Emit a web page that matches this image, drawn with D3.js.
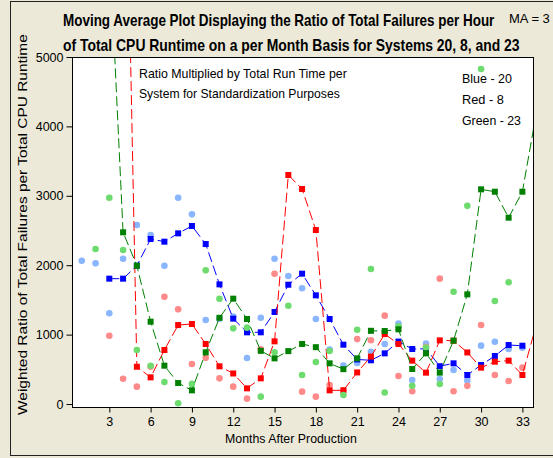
<!DOCTYPE html>
<html>
<head>
<meta charset="utf-8">
<script src="https://cdn.jsdelivr.net/npm/d3@7"></script>
<style>
  html, body { margin: 0; padding: 0; background: #ECE9D8; }
  svg { display: block; }
  text { font-family: "Liberation Sans", Arial, sans-serif; fill: #000; }
</style>
</head>
<body>
<svg id="chart" width="553" height="458"></svg>
<script>
// Months after production (1..34); month 34 only feeds the last MA segment
const months = [1,2,3,4,5,6,7,8,9,10,11,12,13,14,15,16,17,18,19,20,21,22,23,24,25,26,27,28,29,30,31,32,33,34];
const xTickValues = [3,6,9,12,15,18,21,24,27,30,33];
const yTickValues = [0,1000,2000,3000,4000,5000];

// System 20 (blue)
const blueRaw = [2065,2027,1307,2094,2579,2435,1993,2973,2733,1210,1230,1260,663,1244,2094,1844,1667,1225,785,553,590,754,865,1160,346,870,360,490,340,841,898,793,812,null];
const blueMA  = [null,null,1806,1806,1993,2378,2339,2459,2565,2305,1724,1230,1033,1033,1326,1719,1878,1566,1225,855,642,630,730,900,793,795,545,586,418,562,692,850,840,null];

// System 8 (red)
const redRaw = [null,null,984,365,250,537,1546,1364,576,665,370,250,77,788,1878,7230,178,106,274,196,935,918,1273,403,183,826,1806,183,262,1138,418,331,524,null];
const redMA  = [null,null,null,10300,537,384,778,1138,1153,865,543,440,226,370,903,3300,3098,2507,197,197,455,683,1008,865,625,452,917,912,743,524,610,625,418,1135];

// System 23 (green)
const greenRaw = [null,2233,2973,2219,778,552,317,10,290,1926,1517,1090,1100,106,745,1415,418,605,764,130,1070,1945,166,1119,264,815,288,1618,2855,4827,1484,1754,5940,null];
const greenMA  = [null,null,6650,2474,1993,1186,552,302,197,745,1242,1518,1225,766,658,762,865,819,586,502,658,1055,1052,1076,504,730,452,913,1580,3093,3059,2685,3059,4180];

const series = [
  { raw: blueRaw,  ma: blueMA,  dot: "#8AB6FF", mark: "#0000FF", line: "#0000FF" },
  { raw: redRaw,   ma: redMA,   dot: "#FF8A8A", mark: "#FF0000", line: "#FF0000" },
  { raw: greenRaw, ma: greenMA, dot: "#6EDB6E", mark: "#008000", line: "#008000" }
];

const svg = d3.select("#chart");
const plot = { left: 72, right: 533, top: 57, bottom: 407 };

const x = d3.scaleLinear().domain([0.29, 33.77]).range([plot.left, plot.right]);
const y = d3.scaleLinear().domain([-43, 5000]).range([plot.bottom, plot.top]);

// Place a text at (px, py) and squeeze it horizontally to the given width
function fitText(str, px, py, width, opts = {}) {
  const t = svg.append("text")
    .attr("font-size", opts.size || 13)
    .attr("font-weight", opts.weight || "normal")
    .attr("fill", opts.fill || "#222")
    .text(str);
  const natural = t.node().getComputedTextLength();
  const k = width / natural;
  const rot = opts.rotate ? ` rotate(${opts.rotate})` : "";
  const ax = opts.anchor === "middle" ? -width / 2 : 0;
  t.attr("transform", `translate(${px},${py})${rot} translate(${ax},0) scale(${k},1)`);
  return t;
}

// outer border of the graph window
svg.append("rect")
  .attr("x", 10.5).attr("y", 1.5)
  .attr("width", 600).attr("height", 454)
  .attr("fill", "#ECE9D8").attr("stroke", "#222").attr("stroke-width", 1);

// data region
svg.append("rect")
  .attr("x", plot.left).attr("y", plot.top)
  .attr("width", plot.right - plot.left).attr("height", plot.bottom - plot.top)
  .attr("fill", "#fff");

svg.append("clipPath").attr("id", "clip")
  .append("rect")
  .attr("x", plot.left).attr("y", plot.top)
  .attr("width", plot.right - plot.left).attr("height", plot.bottom - plot.top);

const g = svg.append("g").attr("clip-path", "url(#clip)");

const lineGen = d3.line()
  .defined(d => d.v != null)
  .x(d => x(d.m))
  .y(d => y(d.v));

series.forEach(s => {
  const rawPts = months.map((m, i) => ({ m, v: s.raw[i] })).filter(d => d.v != null);
  const maPts  = months.map((m, i) => ({ m, v: s.ma[i] }));

  g.append("g").selectAll("circle")
    .data(rawPts).join("circle")
    .attr("cx", d => x(d.m)).attr("cy", d => y(d.v))
    .attr("r", 3.3).attr("fill", s.dot);

  g.append("path")
    .datum(maPts)
    .attr("d", lineGen)
    .attr("fill", "none")
    .attr("stroke", s.line)
    .attr("stroke-width", 1)
    .attr("stroke-dasharray", "10,4");

  g.append("g").selectAll("rect")
    .data(maPts.filter(d => d.v != null)).join("rect")
    .attr("x", d => x(d.m) - 3).attr("y", d => y(d.v) - 3)
    .attr("width", 6).attr("height", 6)
    .attr("fill", s.mark);
});

// frame
svg.append("rect")
  .attr("x", plot.left + 0.5).attr("y", plot.top + 0.5)
  .attr("width", plot.right - plot.left).attr("height", plot.bottom - plot.top)
  .attr("fill", "none").attr("stroke", "#000").attr("stroke-width", 1);

// axes
const xAxis = svg.append("g")
  .attr("transform", `translate(0,${plot.bottom + 0.5})`)
  .call(d3.axisBottom(x).tickValues(xTickValues).tickFormat(d3.format("d")).tickSize(5).tickPadding(5));
const yAxis = svg.append("g")
  .attr("transform", `translate(${plot.left + 0.5},0)`)
  .call(d3.axisLeft(y).tickValues(yTickValues).tickFormat(d3.format("d")).tickSize(6).tickPadding(3));

[xAxis, yAxis].forEach(a => {
  a.select(".domain").remove();
  a.selectAll("line").attr("stroke", "#000");
  a.selectAll("text").attr("font-size", 12.5)
    .attr("font-family", '"Liberation Sans", Arial, sans-serif')
    .attr("fill", "#222");
});

// axis titles
fitText("Months After Production", 291, 443, 132, { anchor: "middle" });
fitText("Weighted Ratio of Total Failures per Total CPU Runtime", 27, 415, 381, { rotate: -90 });

// chart title
fitText("Moving Average Plot Displaying the Ratio of Total Failures per Hour", 63, 26, 432,
        { size: 16, weight: "bold", fill: "#000" });
fitText("of Total CPU Runtime on a per Month Basis for Systems 20, 8, and 23", 63, 51, 457,
        { size: 16, weight: "bold", fill: "#000" });
svg.append("text")
  .attr("x", 509).attr("y", 23)
  .attr("font-size", 13).attr("fill", "#222")
  .text("MA = 3");

// annotation inside the plot
fitText("Ratio Multiplied by Total Run Time per", 139, 78, 208);
fitText("System for Standardization Purposes", 139, 98, 201);

// series key
const keyLines = [["Blue - 20", 50], ["Red - 8", 42], ["Green - 23", 59]];
keyLines.forEach(([t, w], i) => fitText(t, 462, 83 + i * 21, w));
</script>
</body>
</html>
